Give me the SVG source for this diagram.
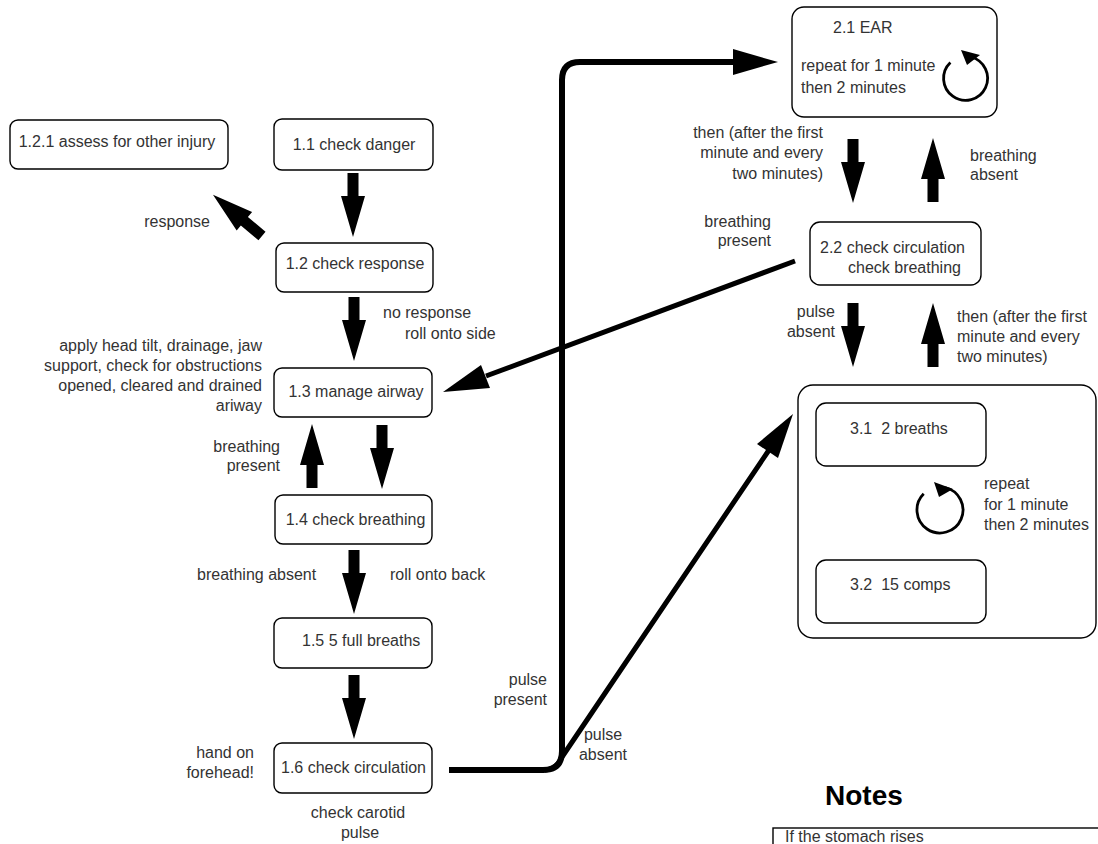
<svg xmlns="http://www.w3.org/2000/svg" xmlns:xlink="http://www.w3.org/1999/xlink" width="1098" height="844" viewBox="0 0 1098 844">
<style>
  .box { fill: #fff; stroke: #000; stroke-width: 1.4; }
  .t { font-family: "Liberation Sans", Arial, sans-serif; font-size: 16px; fill: #333; white-space: pre; }
  .m { text-anchor: middle; }
  .e { text-anchor: end; }
  .line { fill: none; stroke: #000; stroke-linejoin: round; }
  .head { fill: #000; }
  .loop { fill: none; stroke: #000; stroke-width: 2.8; }
</style>
<defs>
  <path id="blk" d="M-5.5,0 H5.5 V23 H12 L0,64 L-12,23 H-5.5 Z" fill="#000"/>
</defs>
<rect width="1098" height="844" fill="#fff"/>

<g id="connectors">
  <use xlink:href="#blk" href="#blk" transform="translate(353,173)"/>
  <use xlink:href="#blk" href="#blk" transform="translate(354,297)"/>
  <use xlink:href="#blk" href="#blk" transform="translate(382,425)"/>
  <use xlink:href="#blk" href="#blk" transform="translate(312,488) rotate(180)"/>
  <use xlink:href="#blk" href="#blk" transform="translate(354,550)"/>
  <use xlink:href="#blk" href="#blk" transform="translate(354,675)"/>
  <use xlink:href="#blk" href="#blk" transform="translate(262,236) rotate(130)"/>
  <use xlink:href="#blk" href="#blk" transform="translate(853,139)"/>
  <use xlink:href="#blk" href="#blk" transform="translate(933,202) rotate(180)"/>
  <use xlink:href="#blk" href="#blk" transform="translate(853,303)"/>
  <use xlink:href="#blk" href="#blk" transform="translate(933,367) rotate(180)"/>
  <use xlink:href="#blk" href="#blk" transform="translate(886,480)"/>

  <path class="line" stroke-width="6" d="M449,770 H543 Q562,770 562,751 V80 Q562,62 580,62 H736"/>
  <polygon class="head" points="733,49 778,62 733,75"/>
  <path class="line" stroke-width="5" d="M545,770 Q556,770 562,757 L769,450"/>
  <polygon class="head" points="757,444 793,414 778,458"/>
  <path class="line" stroke-width="5" d="M795,261 L486,376"/>
  <polygon class="head" points="481,365 443,392 490,388"/>
</g>

<g id="n121">
  <rect class="box" x="10" y="120" width="218" height="49" rx="8"/>
  <text class="t m" x="117" y="147">1.2.1 assess for other injury</text>
</g>
<g id="n11">
  <rect class="box" x="274" y="119" width="159" height="51" rx="8"/>
  <text class="t m" x="354" y="150">1.1 check danger</text>
</g>
<g id="n12">
  <rect class="box" x="276" y="243" width="157" height="49" rx="8"/>
  <text class="t m" x="355" y="269">1.2 check response</text>
</g>
<g id="n13">
  <rect class="box" x="274" y="368" width="158" height="49" rx="8"/>
  <text class="t m" x="356" y="397">1.3 manage airway</text>
</g>
<g id="n14">
  <rect class="box" x="275" y="495" width="157" height="49" rx="8"/>
  <text class="t m" x="355.5" y="525">1.4 check breathing</text>
</g>
<g id="n15">
  <rect class="box" x="274" y="618" width="158" height="50" rx="8"/>
  <text class="t" x="302" y="646">1.5 5 full breaths</text>
</g>
<g id="n16">
  <rect class="box" x="274" y="743" width="158" height="50" rx="8"/>
  <text class="t m" x="353.5" y="773">1.6 check circulation</text>
</g>

<g id="n21">
  <rect class="box" x="792" y="7" width="205" height="110" rx="12"/>
  <text class="t" x="833" y="33">2.1 EAR</text>
  <text class="t" x="801" y="71">repeat for 1 minute</text>
  <text class="t" x="801" y="93">then 2 minutes</text>
  <path class="loop" d="M950.4,62.4 A22,22 0 1 0 971,57"/>
  <polygon class="head" points="961,50 967,65 980,55"/>
</g>
<g id="n22">
  <rect class="box" x="810" y="222" width="171" height="63" rx="10"/>
  <text class="t" x="820" y="253">2.2 check circulation</text>
  <text class="t" x="848" y="273">check breathing</text>
</g>
<g id="n3">
  <rect class="box" x="798" y="385" width="298" height="253" rx="15"/>
  <path class="loop" d="M923.7,493.7 A23,23 0 1 0 945,487.5"/>
  <polygon class="head" points="934,482 939,497 953,489"/>
  <text class="t" x="984" y="489">repeat</text>
  <text class="t" x="984" y="510">for 1 minute</text>
  <text class="t" x="984" y="530">then 2 minutes</text>
  <g id="n31">
    <rect class="box" x="816" y="403" width="170" height="63" rx="10"/>
    <text class="t" x="850" y="434" xml:space="preserve">3.1  2 breaths</text>
  </g>
  <g id="n32">
    <rect class="box" x="816" y="560" width="170" height="63" rx="10"/>
    <text class="t" x="850" y="590" xml:space="preserve">3.2  15 comps</text>
  </g>
</g>

<g id="labels">
  <text class="t e" x="210" y="227">response</text>
  <text class="t" x="383" y="318">no response</text>
  <text class="t" x="405" y="339">roll onto side</text>
  <text class="t e" x="262" y="351">apply head tilt, drainage, jaw</text>
  <text class="t e" x="262" y="371">support, check for obstructions</text>
  <text class="t e" x="262" y="391">opened, cleared and drained</text>
  <text class="t e" x="262" y="411">ariway</text>
  <text class="t e" x="280" y="452">breathing</text>
  <text class="t e" x="280" y="471">present</text>
  <text class="t" x="197" y="580">breathing absent</text>
  <text class="t" x="390" y="580">roll onto back</text>
  <text class="t e" x="254" y="758">hand on</text>
  <text class="t e" x="254" y="778">forehead!</text>
  <text class="t m" x="358" y="818">check carotid</text>
  <text class="t m" x="360" y="838">pulse</text>
  <text class="t e" x="547" y="685">pulse</text>
  <text class="t e" x="547" y="705">present</text>
  <text class="t m" x="603" y="740">pulse</text>
  <text class="t m" x="603" y="760">absent</text>
  <text class="t e" x="823" y="138">then (after the first</text>
  <text class="t e" x="823" y="158">minute and every</text>
  <text class="t e" x="823" y="179">two minutes)</text>
  <text class="t" x="970" y="161">breathing</text>
  <text class="t" x="970" y="180">absent</text>
  <text class="t e" x="771" y="227">breathing</text>
  <text class="t e" x="771" y="246">present</text>
  <text class="t e" x="835" y="317">pulse</text>
  <text class="t e" x="835" y="337">absent</text>
  <text class="t" x="957" y="322">then (after the first</text>
  <text class="t" x="957" y="342">minute and every</text>
  <text class="t" x="957" y="362">two minutes)</text>
</g>

<g id="notes">
  <text x="825" y="805" font-family="Liberation Sans, Arial, sans-serif" font-size="28" font-weight="bold" fill="#000">Notes</text>
  <rect x="773" y="828" width="340" height="40" fill="#fff" stroke="#000" stroke-width="1.4"/>
  <text class="t" x="785" y="842">If the stomach rises</text>
</g>
</svg>
